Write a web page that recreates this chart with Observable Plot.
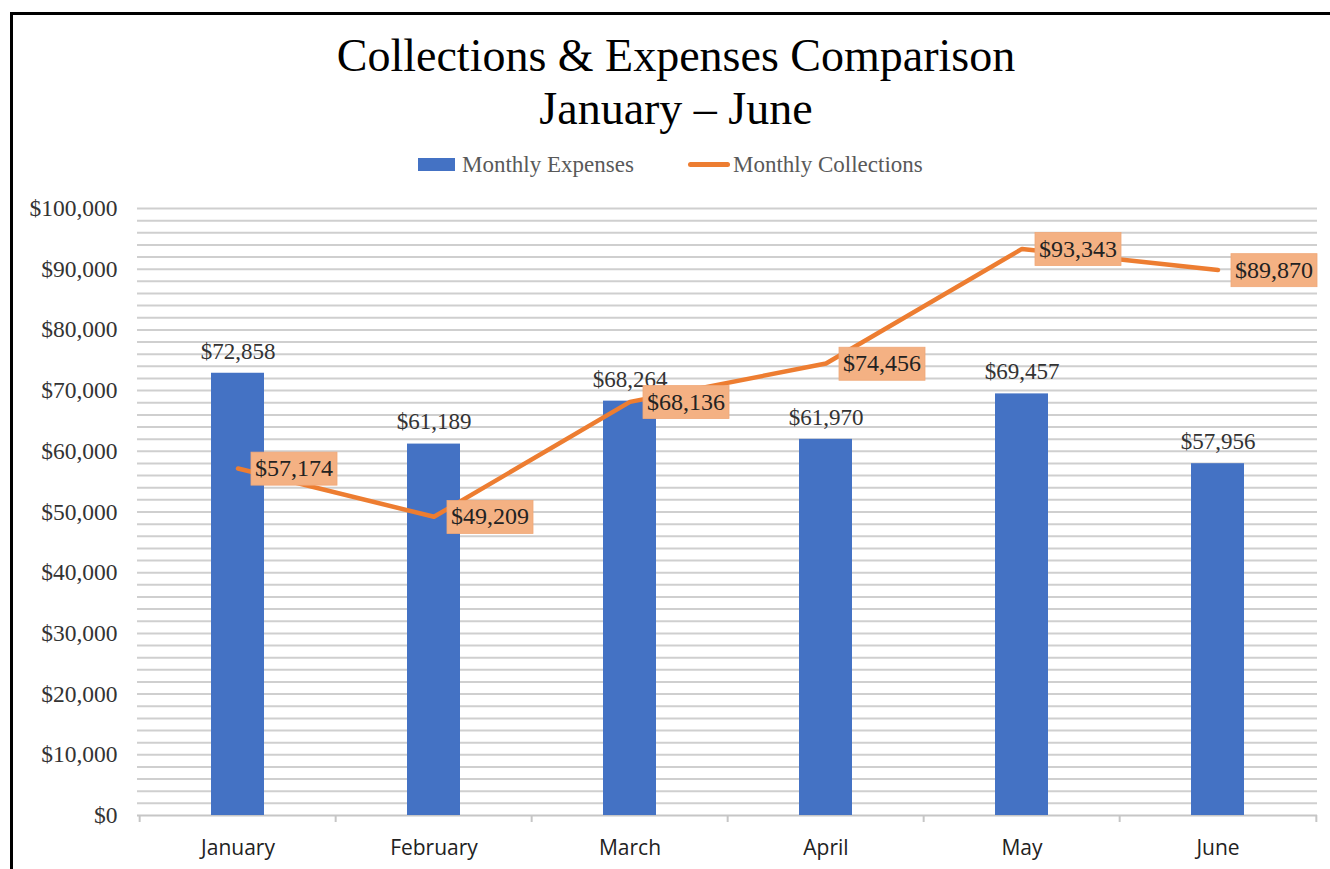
<!DOCTYPE html>
<html><head><meta charset="utf-8">
<script src="https://cdn.jsdelivr.net/npm/d3@7"></script>
<script src="https://cdn.jsdelivr.net/npm/@observablehq/plot@0.6"></script>
<style>
html,body{margin:0;padding:0;background:#fff;}
body{width:1330px;height:869px;overflow:hidden;position:relative;font-family:"Liberation Serif",serif;}
#frame{position:absolute;left:10px;top:12px;width:1340px;height:900px;border-left:3px solid #000;border-top:3px solid #000;z-index:10;pointer-events:none;}
#title{position:absolute;left:0;top:29px;width:1352px;text-align:center;font-size:46px;line-height:53px;color:#000;}
.lg{position:absolute;}
.lgtext{position:absolute;top:151px;font-size:23px;line-height:28px;color:#595959;}
#chart{position:absolute;left:0;top:190px;}
</style></head>
<body>
<div id="frame"></div>
<div id="title">Collections &amp; Expenses Comparison<br>January – June</div>
<div class="lg" style="left:418px;top:158px;width:37px;height:13px;background:#4472C4"></div>
<div class="lgtext" style="left:462px">Monthly Expenses</div>
<div class="lg" style="left:688px;top:162px;width:42px;height:4.5px;border-radius:3px;background:#ED7D31"></div>
<div class="lgtext" style="left:733px">Monthly Collections</div>
<div id="chart"></div>
<script>
const months = ["January","February","March","April","May","June"];
const expenses = [72858, 61189, 68264, 61970, 69457, 57956];
const collections = [57174, 49209, 68136, 74456, 93343, 89870];
const yTicks = [0,10000,20000,30000,40000,50000,60000,70000,80000,90000,100000];

const data = months.map((m,i)=>({month:m, expenses:expenses[i], collections:collections[i]}));
const fmt = d3.format("$,");
const W = 1330, H = 679, ML = 137, MR = 13, MT = 18, MB = 54;
const step = (W - ML - MR) / months.length;
const serif = "Liberation Serif";
const sans = "Open Sans";

const chart = Plot.plot({
  width: W, height: H,
  marginLeft: ML, marginRight: MR, marginTop: MT, marginBottom: MB,
  style: {background: "transparent", overflow: "visible"},
  x: {domain: months, paddingInner: 0.73, paddingOuter: 0.365, label: null},
  y: {domain: [0, 100000], label: null},
  marks: [
    Plot.ruleY(d3.range(2000, 100001, 2000), {stroke: "#cfcfcf", strokeWidth: 2}),
    Plot.ruleY([0], {stroke: "#c6c6c6", strokeWidth: 2}),
    Plot.ruleX(months, {x: d => d, y1: 0, y2: -1150, dx: -step/2, stroke: "#c6c6c6", strokeWidth: 2}),
    Plot.ruleX([months[months.length-1]], {x: d => d, y1: 0, y2: -1150, dx: step/2, stroke: "#c6c6c6", strokeWidth: 2}),
    Plot.axisY({ticks: yTicks, tickFormat: fmt, tickSize: 0, tickPadding: 20, fontSize: 23.5, fontFamily: serif, color: "#333", label: null}),
    Plot.axisX({tickSize: 0, tickPadding: 25, fontSize: 21, fontFamily: sans, color: "#222", label: null}),
    Plot.barY(data, {x: "month", y: "expenses", fill: "#4472C4"}),
    Plot.text(data, {x: "month", y: "expenses", text: d => fmt(d.expenses), dy: -22, fontSize: 23, fontFamily: serif, fill: "#333"}),
    Plot.lineY(data, {x: "month", y: "collections", stroke: "#ED7D31", strokeWidth: 4.5, strokeLinecap: "round", strokeLinejoin: "round"}),
    Plot.text(data, {x: "month", y: "collections", text: d => fmt(d.collections), dx: 17, textAnchor: "start", fontSize: 24, fontFamily: serif, fill: "#222"})
  ]
});
document.getElementById("chart").appendChild(chart);

// label background boxes for the collections labels (last text mark), sized from rendered text
const textGroups = chart.querySelectorAll('g[aria-label="text"]');
const g = textGroups[textGroups.length - 1];
if (g) {
  g.querySelectorAll("text").forEach(t => {
    const b = t.getBBox();
    const r = document.createElementNS("http://www.w3.org/2000/svg", "rect");
    const cy = b.y + b.height / 2;
    r.setAttribute("x", b.x - 4);
    r.setAttribute("y", cy - 16);
    r.setAttribute("width", b.width + 8);
    r.setAttribute("height", 33);
    r.setAttribute("fill", "#F4B183");
    r.setAttribute("stroke", "#f0a878");
    r.setAttribute("stroke-width", 0.8);
    const tr = t.getAttribute("transform");
    if (tr) r.setAttribute("transform", tr);
    t.parentNode.insertBefore(r, t);
  });
}
</script>
</body></html>
